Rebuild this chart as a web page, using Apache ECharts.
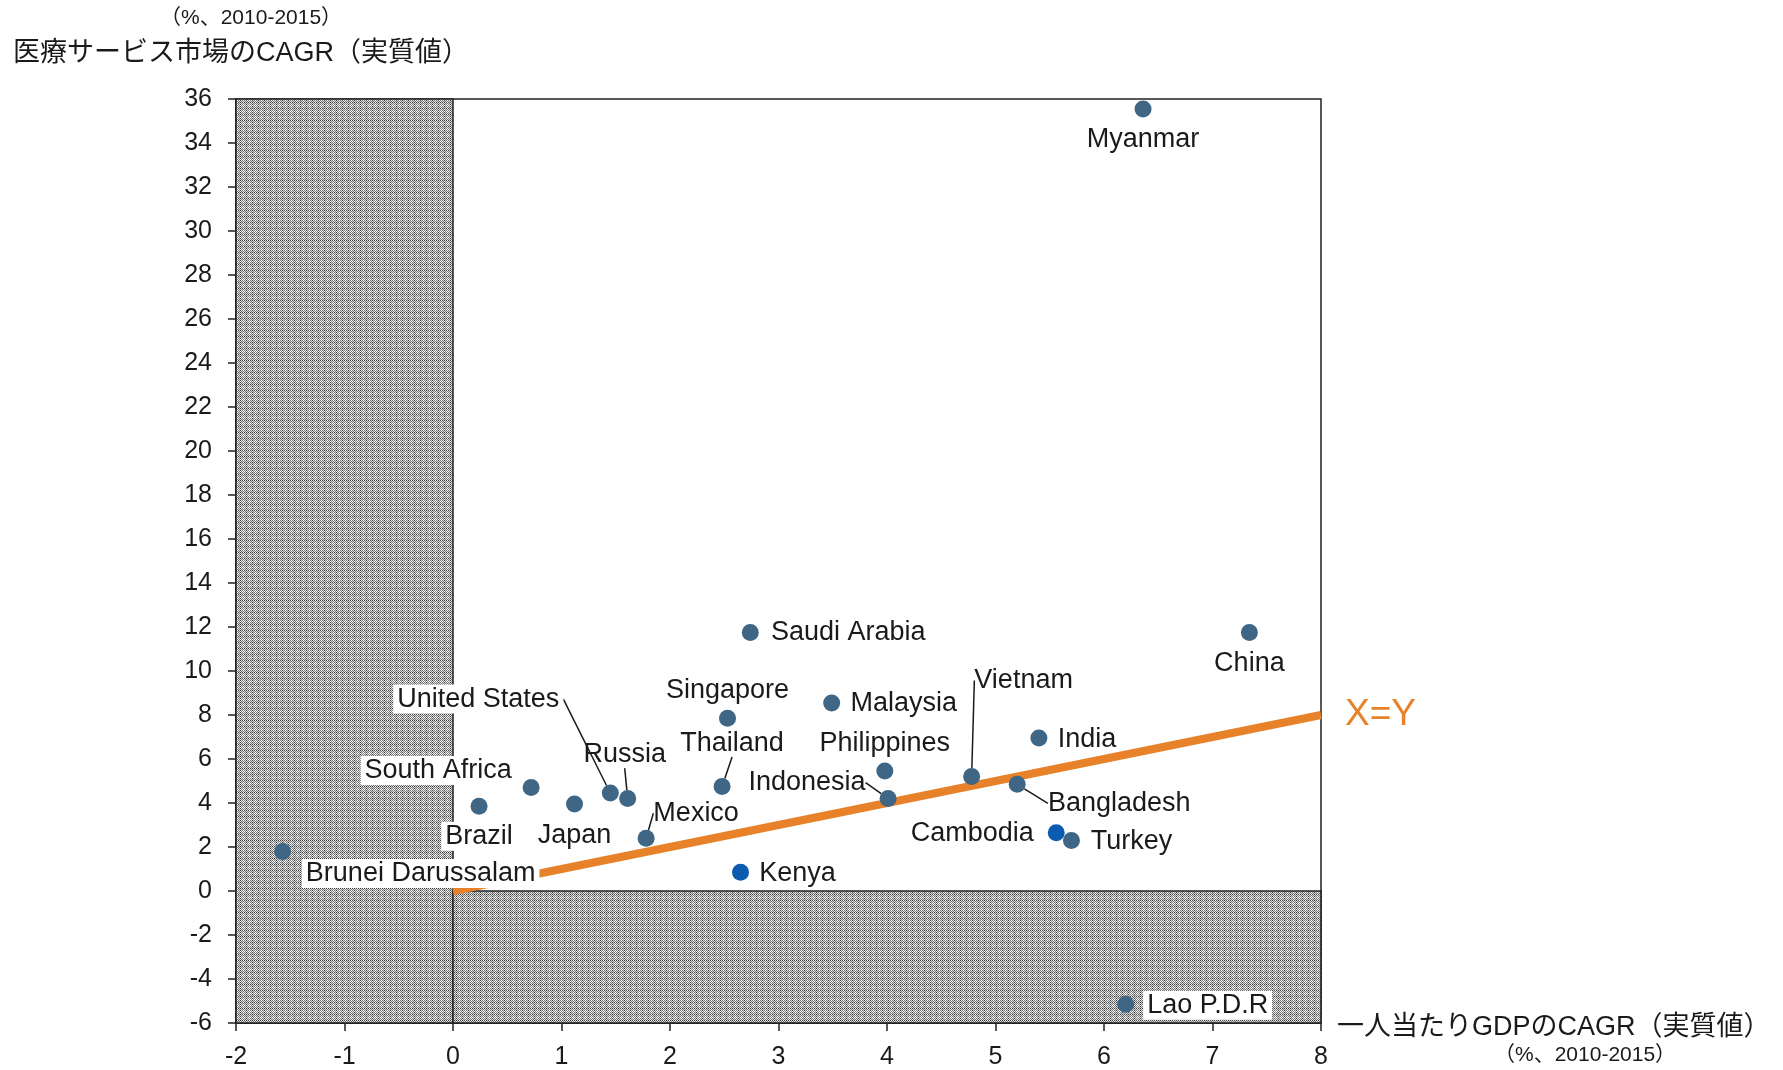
<!DOCTYPE html>
<html>
<head>
<meta charset="utf-8">
<script src="https://cdn.jsdelivr.net/npm/echarts@6/dist/echarts.min.js"></script>
<style>
  html, body { margin: 0; padding: 0; background: #fff; overflow: hidden; }
  #chart { width: 1783px; height: 1070px; }
</style>
</head>
<body>
<div id="chart"></div>
<script>
// 一人当たりGDPのCAGR (x) と 医療サービス市場のCAGR (y)
const countries = [
  "Myanmar", "China", "Saudi Arabia", "Singapore", "Malaysia", "India",
  "Philippines", "Indonesia", "Vietnam", "Bangladesh", "Cambodia", "Turkey",
  "Kenya", "Thailand", "Mexico", "Russia", "United States", "Japan",
  "South Africa", "Brazil", "Brunei Darussalam", "Lao P.D.R"
];
const gdpCagr = [
  6.36, 7.34, 2.74, 2.53, 3.49, 5.40,
  3.98, 4.01, 4.78, 5.20, 5.56, 5.70,
  2.65, 2.48, 1.78, 1.61, 1.45, 1.12,
  0.72, 0.24, -1.57, 6.20
];
const healthCagr = [
  35.55, 11.75, 11.75, 7.85, 8.55, 6.95,
  5.45, 4.2, 5.2, 4.85, 2.65, 2.3,
  0.85, 4.75, 2.4, 4.2, 4.45, 3.95,
  4.7, 3.85, 1.8, -5.15
];
// 明るい青で描かれている国
const highlighted = ["Cambodia", "Kenya"];
// X=Y 参照線
const refLine = [[0, 0], [8, 8]];
// 網掛け領域 (x<0 と y<0)
const shadedAreas = [
  [[-2, -6], [0, 36]],
  [[0, -6], [8, 0]]
];

// ラベルの位置 (点からのずれ, px) と引き出し線
const labelPlace = {
  "Myanmar": [0, 31],
  "China": [0, 31],
  "Saudi Arabia": [98, 0],
  "Singapore": [0, -28],
  "Malaysia": [72, 1],
  "India": [48, 1],
  "Philippines": [0, -28],
  "Indonesia": [-81, -16, true],
  "Vietnam": [52, -96, true],
  "Bangladesh": [102, 19, true],
  "Cambodia": [-84, 1],
  "Turkey": [60, 1],
  "Kenya": [57, 1],
  "Thailand": [10, -43, true],
  "Mexico": [50, -25, true],
  "Russia": [-3, -44, true],
  "United States": [-132, -94, true],
  "Japan": [0, 31],
  "South Africa": [-93, -17],
  "Brazil": [0, 30],
  "Brunei Darussalam": [138, 22],
  "Lao P.D.R": [82, 1]
};
const whiteBg = ["Brunei Darussalam", "Lao P.D.R", "United States", "South Africa", "Brazil"];

const FONT = "'Liberation Sans', Arial, 'Noto Sans CJK JP', sans-serif";

// 網掛けパターン
function makePattern() {
  const c = document.createElement('canvas');
  c.width = 6; c.height = 6;
  const ctx = c.getContext('2d');
  for (let y = 0; y < 6; y++) {
    for (let x = 0; x < 6; x++) {
      let col;
      if ((x + y) % 2 === 0) {
        col = (x === 0 || y === 0) ? '#3c3c3c' : '#7a7a7a';
      } else {
        col = (x === 3 || y === 3) ? '#ffffff' : '#dadada';
      }
      ctx.fillStyle = col;
      ctx.fillRect(x, y, 1, 1);
    }
  }
  return c;
}

const points = countries.map((name, i) => {
  const isHi = highlighted.indexOf(name) >= 0;
  const item = {
    name: name,
    value: [gdpCagr[i], healthCagr[i]],
    itemStyle: { color: isHi ? '#0B5CB0' : '#3F6684', opacity: 1 },
    label: {}
  };
  if (whiteBg.indexOf(name) >= 0) {
    item.label.backgroundColor = '#ffffff';
    item.label.padding = [2, 4, 0, 4];
  }
  const p = labelPlace[name];
  item.labelLine = { show: !!p[2] };
  return item;
});

const chart = echarts.init(document.getElementById('chart'));

const option = {
  backgroundColor: '#ffffff',
  animation: false,
  textStyle: { fontFamily: FONT },
  grid: {
    left: 236, top: 99, right: 462, bottom: 44,
    show: true, borderColor: '#222', borderWidth: 1.5,
    backgroundColor: 'transparent'
  },
  xAxis: {
    type: 'value', min: -2, max: 8, interval: 1,
    axisLine: { onZero: false, lineStyle: { color: '#222', width: 1.5 } },
    axisTick: { show: true, length: 8, lineStyle: { color: '#222', width: 1.5 } },
    axisLabel: { color: '#1a1a1a', fontSize: 25, margin: 22, fontFamily: FONT },
    splitLine: { show: false }
  },
  yAxis: {
    type: 'value', min: -6, max: 36, interval: 2,
    axisLine: { onZero: false, lineStyle: { color: '#222', width: 1.5 } },
    axisTick: { show: true, length: 8, lineStyle: { color: '#222', width: 1.5 } },
    axisLabel: { color: '#1a1a1a', fontSize: 25, margin: 24, fontFamily: FONT },
    splitLine: { show: false }
  },
  graphic: [
    { type: 'text', left: 160, top: 8,
      style: { text: '（%、2010-2015）', fontSize: 21, fill: '#1a1a1a', fontFamily: FONT } },
    { type: 'text', left: 13, top: 40,
      style: { text: '医療サービス市場のCAGR（実質値）', fontSize: 27, fill: '#1a1a1a', fontFamily: FONT } },
    { type: 'text', left: 1337, top: 1014,
      style: { text: '一人当たりGDPのCAGR（実質値）', fontSize: 27, fill: '#1a1a1a', fontFamily: FONT } },
    { type: 'text', left: 1494, top: 1045,
      style: { text: '（%、2010-2015）', fontSize: 21, fill: '#1a1a1a', fontFamily: FONT } }
  ],
  series: [
    {
      type: 'scatter',
      name: 'shade',
      data: [],
      silent: true,
      z: 1,
      markArea: {
        silent: true,
        itemStyle: {
          color: { image: makePattern(), repeat: 'repeat' },
          opacity: 1,
          borderColor: '#222',
          borderWidth: 1.5
        },
        data: shadedAreas.map(a => [
          { coord: a[0] },
          { coord: a[1] }
        ])
      }
    },
    {
      type: 'line',
      name: 'X=Y',
      data: refLine,
      z: 2,
      symbol: 'none',
      lineStyle: { color: '#E8822A', width: 8 },
      endLabel: {
        show: true,
        formatter: 'X=Y',
        color: '#E8822A',
        fontSize: 37,
        distance: 24,
        fontFamily: FONT
      }
    },
    {
      type: 'scatter',
      name: 'countries',
      data: points,
      z: 5,
      symbolSize: 17,
      itemStyle: { opacity: 1 },
      label: {
        show: true,
        position: 'inside',
        formatter: '{b}',
        color: '#1a1a1a',
        fontSize: 27,
        fontFamily: FONT
      },
      labelLine: {
        lineStyle: { color: '#1a1a1a', width: 1.5 }
      },
      labelLayout: function (params) {
        const p = labelPlace[countries[params.dataIndex]];
        return { dx: p[0], dy: p[1] };
      }
    }
  ]
};

chart.setOption(option);
window.onresize = function () { chart.resize(); };
</script>
</body>
</html>
